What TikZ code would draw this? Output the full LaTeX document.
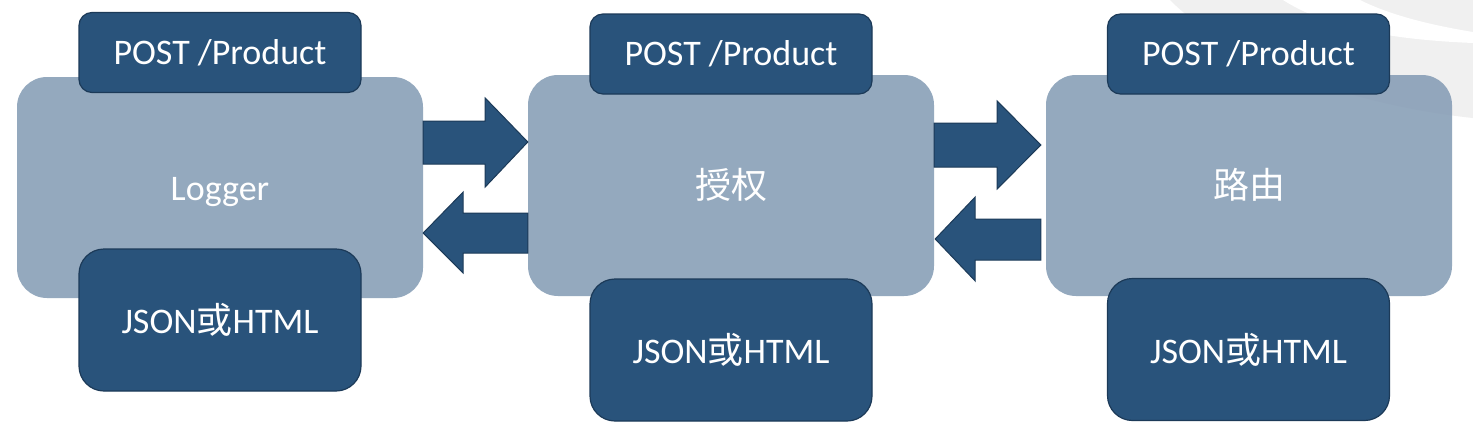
\documentclass[tikz,border=0pt]{standalone}
\usepackage{fontspec}
\setmainfont{Carlito}
\newfontfamily\cjk{Noto Sans CJK SC}
\usetikzlibrary{calc}
\definecolor{dkblue}{RGB}{41,83,123}
\definecolor{dkedge}{RGB}{28,58,88}
\definecolor{ltblue}{RGB}{130,154,179}
\definecolor{bggray}{RGB}{240,240,240}
\tikzset{
  lightbox/.style={rectangle, rounded corners=30pt, fill=ltblue, fill opacity=0.85, text opacity=1,
    minimum width=406pt, minimum height=221pt, inner sep=0pt, text=white,
    text height=30pt, text depth=5pt,
    font=\fontsize{36}{40}\selectfont},
  topbox/.style={rectangle, rounded corners=13pt, fill=dkblue, draw=dkedge, line width=1.2pt,
    minimum width=282pt, minimum height=80pt, inner sep=0pt, text=white,
    font=\fontsize{36}{40}\selectfont},
  botbox/.style={rectangle, rounded corners=25pt, fill=dkblue, draw=dkedge, line width=1.2pt,
    minimum width=282pt, minimum height=142pt, inner sep=0pt, text=white,
    font=\fontsize{36}{40}\selectfont},
  arrowc/.style={fill=dkblue, draw=dkedge, line width=1pt, line join=miter}
}
\begin{document}
\begin{tikzpicture}[x=1pt,y=-1pt]
\useasboundingbox[fill=white] (0,0) rectangle (1473,434);
% background decoration
\fill[bggray] (1170,0) .. controls (1230,60) and (1350,105) .. (1473,118) -- (1473,0) -- cycle;
\fill[white] (1283,0) .. controls (1330,30) and (1400,40) .. (1473,43) -- (1473,32) .. controls (1430,25) and (1390,15) .. (1360,0) -- cycle;
% light boxes
\node[lightbox] (b1) at (220,187.5) {Logger};
\node[lightbox] (b2) at (731,185.5) {\cjk 授权};
\node[lightbox] (b3) at (1249,185.5) {\cjk 路由};
% top boxes
\node[topbox] (t1) at (220,52.5) {POST /Product};
\node[topbox] (t2) at (731,54) {POST /Product};
\node[topbox] (t3) at (1248.5,54) {POST /Product};
% bottom boxes
\node[botbox] (d1) at (220,320) {JSON{\cjk 或}HTML};
\node[botbox] (d2) at (731,350) {JSON{\cjk 或}HTML};
\node[botbox] (d3) at (1248.5,349.5) {JSON{\cjk 或}HTML};
% arrows between b1 and b2
\draw[arrowc] ($(b1.east)+(0,-66.5)$) -- ++(62,0) -- ++(0,-23) -- ($(b2.west)+(0,-43.5)$)
  -- ($(b1.east)+(62,-0.5)$) -- ++(0,-23) -- ($(b1.east)+(0,-23.5)$) -- cycle;
\draw[arrowc] ($(b1.east)+(0,45.5)$) -- ++(40,-41) -- ++(0,21) -- ($(b2.west)+(0,27.5)$)
  -- ++(0,40) -- ($(b1.east)+(40,65.5)$) -- ++(0,20) -- cycle;
% arrows between b2 and b3
\draw[arrowc] ($(b2.east)+(0,-62.5)$) -- ++(63,0) -- ++(0,-22) -- ($(b3.west)+(-5,-40.5)$)
  -- ($(b2.east)+(63,3.5)$) -- ++(0,-22) -- ($(b2.east)+(0,-18.5)$) -- cycle;
\draw[arrowc] ($(b2.east)+(1,53.5)$) -- ++(40,-42) -- ++(0,22) -- ($(b3.west)+(-5,33.5)$)
  -- ++(0,41) -- ($(b2.east)+(41,74.5)$) -- ++(0,21) -- cycle;
\end{tikzpicture}
\end{document}
